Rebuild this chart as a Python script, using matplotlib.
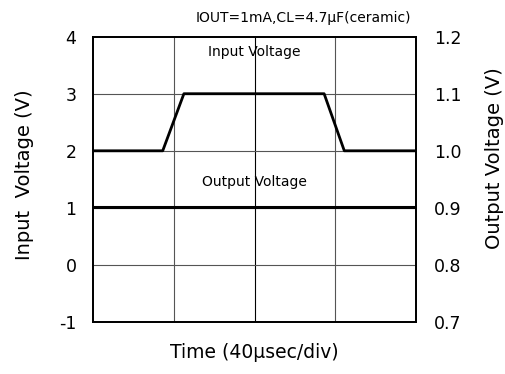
import matplotlib
matplotlib.use("Agg")
import matplotlib.pyplot as plt

# time in microseconds (40 us/div, 4 divisions)
input_t = [0, 34.5, 45.0, 114.5, 124.5, 160]
input_v = [2.0, 2.0, 3.0, 3.0, 2.0, 2.0]

output_t = [0, 160]
output_v = [0.901, 0.901]

left_ticks = [-1, 0, 1, 2, 3, 4]
right_ticks = [0.7, 0.8, 0.9, 1.0, 1.1, 1.2]
right_labels = ["0.7", "0.8", "0.9", "1.0", "1.1", "1.2"]
x_grid = [40, 80, 120]

plt.rcParams["font.family"] = ["DejaVu Sans"]
plt.rcParams["axes.unicode_minus"] = False

fig = plt.figure(figsize=(5.06, 3.74), dpi=100)
ax = fig.add_axes([0.184, 0.139, 0.638, 0.763])
ax2 = ax.twinx()

ax.set_xlim(0, 160)
ax.set_ylim(-1, 4)
ax2.set_ylim(0.7, 1.2)

for x in x_grid:
    ax.axvline(x, color="black" if x == 80 else "#555555", lw=0.8, zorder=1)
for y in left_ticks[1:-1]:
    ax.axhline(y, color="#555555", lw=0.8, zorder=1)

ax.plot(input_t, input_v, color="black", lw=2, zorder=3)
ax2.plot(output_t, output_v, color="black", lw=2.2, zorder=3)

ax.set_xticks([])
ax.set_yticks(left_ticks)
ax.tick_params(axis="y", length=0, pad=12, labelsize=12.5)
ax2.set_yticks(right_ticks)
ax2.set_yticklabels(right_labels)
ax2.tick_params(axis="y", length=0, pad=13, labelsize=12.5)

for a in (ax, ax2):
    for s in a.spines.values():
        s.set_linewidth(1.3)

ax.set_ylabel("Input  Voltage (V)", fontsize=14)
ax.yaxis.set_label_coords(-0.183, 0.515)
ax2.set_ylabel("Output Voltage (V)", fontsize=14)
ax2.yaxis.set_label_coords(1.214, 0.575)
ax.set_xlabel("Time (40\u03bcsec/div)", fontsize=13.5, labelpad=15)

ax.text(0.985, 1.04, "IOUT=1mA,CL=4.7\u03bcF(ceramic)", transform=ax.transAxes,
        ha="right", va="bottom", fontsize=10)
ax.text(0.5, 0.946, "Input Voltage", transform=ax.transAxes,
        ha="center", va="center", fontsize=10)
ax.text(0.5, 0.491, "Output Voltage", transform=ax.transAxes,
        ha="center", va="center", fontsize=10)

fig.savefig("out.png", dpi=100)
